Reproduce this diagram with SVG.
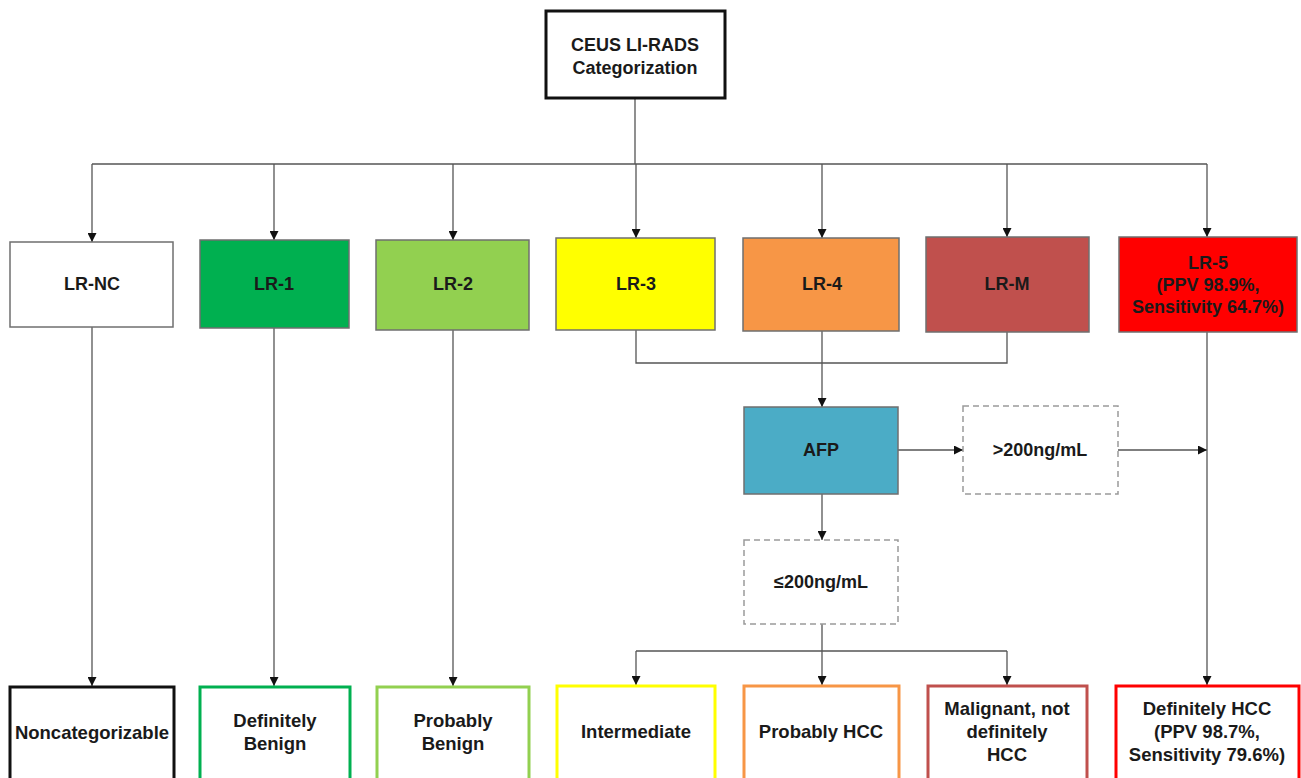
<svg xmlns="http://www.w3.org/2000/svg" width="1301" height="778" viewBox="0 0 1301 778">
<defs>
<marker id="arr" viewBox="0 0 10 10" refX="10" refY="5" markerWidth="9" markerHeight="9" markerUnits="userSpaceOnUse" orient="auto">
<path d="M0,0 L10,5 L0,10 z" fill="#111"/>
</marker>
<style>
.t{font-family:"Liberation Sans",Arial,sans-serif;font-weight:bold;font-size:18px;fill:#1a1a1a;text-anchor:middle;dominant-baseline:central}
.b{font-size:18.5px}
.box{stroke:#6f6f6f;stroke-width:1.5}
.dash{fill:#fff;stroke:#9a9a9a;stroke-width:1.5;stroke-dasharray:6 4}
.out{fill:#fff;stroke-width:3}
.c{fill:none;stroke:#555;stroke-width:1.3}
.a{marker-end:url(#arr)}
</style>
</defs>
<rect width="1301" height="778" fill="#fff"/>
<g id="connectors">
<path class="c" d="M635,98 V164 M92,164 H1207"/>
<path class="c a" d="M92,164 V242"/>
<path class="c a" d="M274,164 V240"/>
<path class="c a" d="M453,164 V240"/>
<path class="c a" d="M636,164 V238"/>
<path class="c a" d="M822,164 V238"/>
<path class="c a" d="M1007,164 V237"/>
<path class="c a" d="M1207,164 V237"/>
<path class="c" d="M636,330 V363 H1007 V332"/>
<path class="c a" d="M822,331 V407"/>
<path class="c a" d="M898,450 H963"/>
<path class="c a" d="M1118,450 H1207"/>
<path class="c a" d="M822,494 V540"/>
<path class="c" d="M822,624 V651 M636,651 H1007"/>
<path class="c a" d="M636,651 V685"/>
<path class="c a" d="M822,651 V685"/>
<path class="c a" d="M1007,651 V685"/>
<path class="c a" d="M92,327 V686"/>
<path class="c a" d="M274,328 V686"/>
<path class="c a" d="M453,330 V686"/>
<path class="c a" d="M1207,332 V685"/>
</g>
<g id="root">
<rect x="546" y="11" width="179" height="87" fill="#fff" stroke="#111" stroke-width="3"/>
<text class="t" x="635" y="45">CEUS LI-RADS</text>
<text class="t" x="635" y="68">Categorization</text>
</g>
<g id="lrnc"><rect class="box" x="10" y="242" width="163" height="85" fill="#fff"/><text class="t" x="92" y="284">LR-NC</text></g>
<g id="lr1"><rect class="box" x="200" y="240" width="149" height="88" fill="#00B050"/><text class="t" x="274" y="284">LR-1</text></g>
<g id="lr2"><rect class="box" x="376" y="240" width="153" height="90" fill="#92D050"/><text class="t" x="453" y="284">LR-2</text></g>
<g id="lr3"><rect class="box" x="556" y="238" width="159" height="92" fill="#FFFF00"/><text class="t" x="636" y="284">LR-3</text></g>
<g id="lr4"><rect class="box" x="743" y="238" width="156" height="93" fill="#F79646"/><text class="t" x="822" y="284">LR-4</text></g>
<g id="lrm"><rect class="box" x="926" y="237" width="163" height="95" fill="#C0504D"/><text class="t" x="1007" y="284">LR-M</text></g>
<g id="lr5"><rect class="box" x="1119" y="237" width="178" height="95" fill="#FF0000"/>
<text class="t" x="1208" y="263">LR-5</text><text class="t" x="1208" y="285">(PPV 98.9%,</text><text class="t" x="1208" y="307">Sensitivity 64.7%)</text></g>
<g id="afp"><rect class="box" x="744" y="407" width="154" height="87" fill="#4BACC6"/><text class="t" x="821" y="450">AFP</text></g>
<g id="gt200"><rect class="dash" x="963" y="406" width="155" height="88"/><text class="t" x="1040" y="450">&gt;200ng/mL</text></g>
<g id="le200"><rect class="dash" x="744" y="540" width="154" height="84"/><text class="t" x="821" y="582">≤200ng/mL</text></g>
<g id="noncat"><rect class="out" x="10" y="687" width="164" height="110" stroke="#111"/><text class="t b" x="92" y="732">Noncategorizable</text></g>
<g id="defben"><rect class="out" x="200" y="687" width="150" height="110" stroke="#00B050"/><text class="t b" x="275" y="720">Definitely</text><text class="t b" x="275" y="743">Benign</text></g>
<g id="probben"><rect class="out" x="377" y="687" width="152" height="110" stroke="#92D050"/><text class="t b" x="453" y="720">Probably</text><text class="t b" x="453" y="743">Benign</text></g>
<g id="inter"><rect class="out" x="557" y="686" width="158" height="110" stroke="#FFFF00"/><text class="t b" x="636" y="731">Intermediate</text></g>
<g id="probhcc"><rect class="out" x="744" y="686" width="155" height="110" stroke="#F79646"/><text class="t b" x="821" y="731">Probably HCC</text></g>
<g id="malig"><rect class="out" x="928" y="686" width="159" height="110" stroke="#C0504D"/><text class="t b" x="1007" y="708">Malignant, not</text><text class="t b" x="1007" y="731">definitely</text><text class="t b" x="1007" y="754">HCC</text></g>
<g id="defhcc"><rect class="out" x="1116" y="686" width="183" height="110" stroke="#FF0000"/><text class="t b" x="1207" y="708">Definitely HCC</text><text class="t b" x="1207" y="731">(PPV 98.7%,</text><text class="t b" x="1207" y="754">Sensitivity 79.6%)</text></g>
</svg>
